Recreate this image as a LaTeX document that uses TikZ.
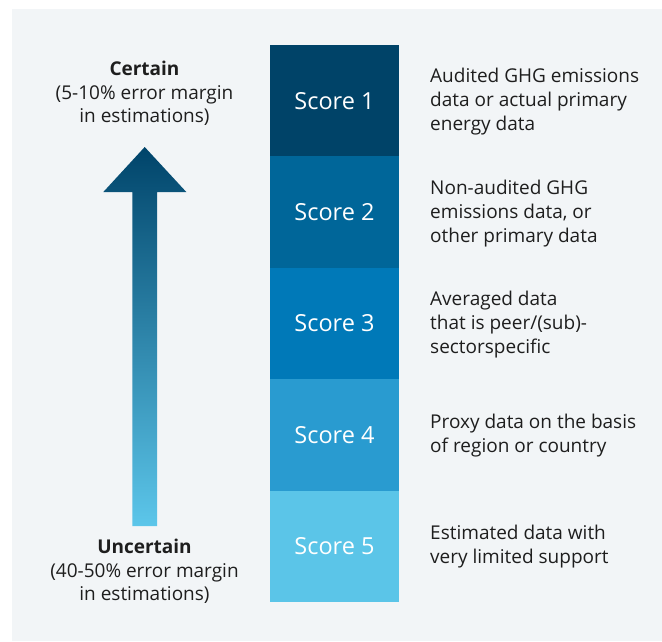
\documentclass[tikz,border=0pt]{standalone}
\usepackage{fontspec}
\setmainfont{Open Sans}
\definecolor{bg}{HTML}{F2F5F7}
\definecolor{txt}{HTML}{1E1E1E}
\definecolor{sa}{HTML}{004368}
\definecolor{sb}{HTML}{006699}
\definecolor{sc}{HTML}{0079B8}
\definecolor{sd}{HTML}{299BD0}
\definecolor{se}{HTML}{5BC5E8}
\definecolor{atop}{HTML}{00446A}
\definecolor{abot}{HTML}{5CC6EA}
\tikzset{
  scorebox/.style={rectangle, minimum width=129pt, minimum height=111.4pt, inner sep=0pt, text=white, font=\fontsize{23.5}{28}\selectfont},
  desc/.style={anchor=west, align=left, inner sep=0pt, text=txt, font=\fontsize{19}{24}\selectfont},
  side/.style={align=center, inner sep=0pt, text=txt, font=\fontsize{19}{23.5}\selectfont}
}
\begin{document}
\begin{tikzpicture}[x=1pt,y=-1pt]
\useasboundingbox (0,0) rectangle (662,641);
\fill[bg] (12,9) rectangle (662,641);
% arrow
\coordinate (tip) at (144.7,147);
\shade[top color=atop, bottom color=abot]
  (tip) -- (186.3,192) -- (157,192) -- (157,526) -- (132.3,526) -- (132.3,192) -- (103.3,192) -- cycle;
% score boxes
\node[scorebox, fill=sa] (s1) at (334.5,100.7) {Score 1};
\node[scorebox, fill=sb] (s2) at (334.5,212.1) {Score 2};
\node[scorebox, fill=sc] (s3) at (334.5,323.5) {Score 3};
\node[scorebox, fill=sd] (s4) at (334.5,434.9) {Score 4};
\node[scorebox, fill=se] (s5) at (334.5,546.3) {Score 5};
% descriptions
\node[desc] (d1) at (430,101.5) {Audited GHG emissions\\data or actual primary\\energy data};
\node[desc] (d2) at (430,213.5) {Non-audited GHG\\emissions data, or\\other primary data};
\node[desc] (d3) at (430,324.5) {Averaged data\\that is peer/(sub)-\\sectorspecific};
\node[desc] (d4) at (430,435.5) {Proxy data on the basis\\of region or country};
\node[desc] (d5) at (430,546.5) {Estimated data with\\very limited support};
% side labels
\node[side] (top) at (144.5,93.5) {\textbf{Certain}\\(5-10\% error margin\\in estimations)};
\node[side] (bot) at (144.5,571.5) {\textbf{Uncertain}\\(40-50\% error margin\\in estimations)};
\end{tikzpicture}
\end{document}
